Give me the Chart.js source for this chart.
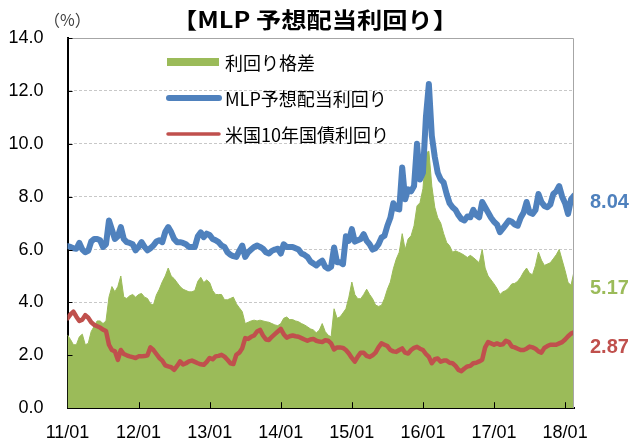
<!DOCTYPE html>
<html lang="ja">
<head>
<meta charset="utf-8">
<title>MLP 予想配当利回り</title>
<script src="https://cdn.jsdelivr.net/npm/chart.js@4.4.1/dist/chart.umd.min.js"></script>
<style>
  html, body { margin: 0; padding: 0; background: #fff; }
  #wrap { width: 631px; height: 443px; }
</style>
</head>
<body>
<div id="wrap"><canvas id="mlpChart" width="631" height="443"></canvas></div>
<script>
// Readings taken twice a month, 2011/01 - 2018/02 (24 points per year)
const pointsPerYear = 24;
const xTickLabels = ['11/01', '12/01', '13/01', '14/01', '15/01', '16/01', '17/01', '18/01'];
const seriesNames = ['利回り格差', 'MLP予想配当利回り', '米国10年国債利回り'];

// MLP yield minus US 10y yield (%)
const spread = [
  2.77, 2.6, 2.4, 2.4, 2.7, 2.8, 2.4, 2.45, 2.9, 3.1, 3.3, 3.3,
  3.2, 3.3, 4.2, 4.6, 4.4, 4.6, 5.0, 4.2, 4.15, 4.25, 4.3, 4.2,
  4.3, 4.34, 4.2, 4.15, 3.95, 3.9, 4.28, 4.5, 4.78, 5.0, 5.3, 5.0,
  4.9, 4.75, 4.6, 4.5, 4.45, 4.4, 4.4, 4.45, 4.8, 4.95, 4.75, 4.85,
  4.75, 4.45, 4.3, 4.3, 4.3, 4.1, 4.1, 4.15, 4.2, 3.95, 3.8, 3.65,
  3.2, 3.25, 3.3, 3.33, 3.3, 3.33, 3.3, 3.27, 3.25, 3.2, 3.15, 3.12,
  3.2, 3.4, 3.45, 3.35, 3.35, 3.3, 3.27, 3.2, 3.15, 3.08, 3.0, 2.96,
  2.85, 2.95, 3.2, 2.9, 2.76, 2.7, 3.76, 3.4, 3.45, 3.6, 3.76, 4.2,
  4.77, 4.3, 4.14, 4.14, 4.3, 4.5, 4.3, 4.14, 3.9, 3.85, 3.89, 4.14,
  4.5, 4.77, 5.27, 5.64, 5.9, 6.6, 6.0, 6.4, 6.52, 6.9, 7.65, 7.77,
  8.3, 9.65, 9.72, 8.4, 7.6, 7.2, 7.0, 6.6, 6.27, 6.14, 5.9, 5.95,
  5.9, 5.85, 5.78, 5.7, 5.78, 5.7, 5.6, 5.5, 6.0, 5.3, 5.0, 4.85,
  4.7, 4.53, 4.3, 4.4, 4.45, 4.55, 4.7, 4.72, 4.8, 4.95, 5.15, 5.3,
  5.1, 5.05, 5.4, 5.9, 5.6, 5.4, 5.45, 5.5, 5.65, 5.8, 6.0, 5.6,
  5.2, 4.75, 4.65, 5.17
];

// MLP expected dividend yield (%)
const mlpYield = [
  6.13, 6.1, 6.05, 6.03, 6.25, 6.0, 5.9, 5.95, 6.3, 6.4, 6.4, 6.35,
  6.1, 6.2, 7.1, 6.75, 6.4, 6.5, 6.85, 6.4, 6.28, 6.25, 6.2, 5.97,
  6.1, 6.28, 6.1, 5.97, 6.05, 6.15, 6.3, 6.35, 6.28, 6.66, 6.85, 6.66,
  6.4, 6.28, 6.28, 6.25, 6.2, 6.1, 6.1, 6.1, 6.5, 6.65, 6.47, 6.6,
  6.55, 6.4, 6.35, 6.28, 6.15, 6.1, 5.9, 5.8, 5.75, 5.72, 5.95, 6.15,
  5.72, 5.9, 6.0, 6.1, 6.15, 6.1, 6.03, 5.9, 5.85, 5.95, 6.0, 6.03,
  5.85, 6.2, 6.1, 6.1, 6.1, 6.05, 6.0, 5.85, 5.8, 5.72, 5.55, 5.47,
  5.4, 5.5, 5.58, 5.35, 5.28, 5.35, 6.08, 5.52, 5.52, 5.45, 6.5, 6.33,
  6.77, 6.3, 6.35, 6.4, 6.58, 6.33, 6.2, 6.0, 6.05, 6.2, 6.45, 6.52,
  6.9, 7.2, 7.75, 7.55, 7.52, 9.1, 7.9, 8.28, 8.2, 8.4, 10.0, 8.65,
  8.9, 11.0, 12.26, 10.3, 9.5, 8.9, 8.65, 8.53, 8.1, 7.75, 7.6, 7.5,
  7.3, 7.15, 7.1, 7.25, 7.22, 7.5, 7.3, 7.22, 7.8, 7.6, 7.4, 7.2,
  7.05, 6.95, 6.66, 6.8, 6.95, 7.1, 7.05, 6.95, 6.9, 7.2, 7.4, 7.8,
  7.4, 7.35, 7.5, 8.1, 7.8, 7.65, 7.6, 7.7, 8.1, 8.2, 8.4, 8.0,
  7.75, 7.35, 7.9, 8.04
];

// US 10-year treasury yield (%)
const ust10y = [
  3.4, 3.55, 3.65, 3.46, 3.3, 3.35, 3.52, 3.42, 3.25, 3.15, 3.1, 3.05,
  2.97, 2.92, 2.4, 2.2, 2.15, 1.83, 2.2, 2.05, 2.0, 1.96, 1.93, 1.9,
  1.96, 1.96, 1.97, 2.0, 2.3, 2.2, 2.05, 1.9, 1.8, 1.62, 1.58, 1.55,
  1.45, 1.6, 1.77, 1.65, 1.7, 1.77, 1.8, 1.75, 1.7, 1.66, 1.64, 1.75,
  1.9, 1.85, 1.96, 1.98, 2.02, 1.95, 1.83, 1.7, 1.67, 2.02, 2.1, 2.27,
  2.65, 2.62, 2.7, 2.75, 2.9, 2.96, 2.75, 2.6, 2.58, 2.7, 2.8, 2.9,
  3.0, 2.8, 2.67, 2.72, 2.75, 2.72, 2.7, 2.65, 2.6, 2.55, 2.6, 2.62,
  2.55, 2.52, 2.5, 2.57, 2.55, 2.45, 2.22, 2.3, 2.3, 2.28, 2.2, 2.07,
  1.9, 1.76, 1.95, 2.1, 2.1, 1.98, 1.94, 2.0, 2.1, 2.3, 2.45, 2.4,
  2.35, 2.2, 2.15, 2.13, 2.2, 2.26, 2.1, 2.07, 2.2, 2.28, 2.32, 2.25,
  2.2, 2.05, 1.94, 1.7, 1.85, 1.88, 1.76, 1.8, 1.8, 1.72, 1.7, 1.6,
  1.45, 1.4, 1.5, 1.58, 1.6, 1.7, 1.72, 1.77, 1.83, 2.3, 2.5, 2.45,
  2.4, 2.45, 2.4, 2.42, 2.55, 2.5, 2.33, 2.3, 2.25, 2.2, 2.2, 2.25,
  2.33, 2.3, 2.25, 2.15, 2.1, 2.28, 2.35, 2.4, 2.4, 2.4, 2.45, 2.5,
  2.6, 2.72, 2.82, 2.87
];

const GREEN = '#9BBB59';
const BLUE = '#4F81BD';
const RED = '#C0504D';
const JP_FONT = '"Noto Sans CJK JP", "Noto Sans", sans-serif';

const toPoints = arr => arr.map((v, i) => ({ x: i, y: v }));

// Title, legend, end labels, frame and inward tick marks
const decorPlugin = {
  id: 'decor',
  afterDraw(chart) {
    const ctx = chart.ctx;
    const area = chart.chartArea;
    const xScale = chart.scales.x;
    const yScale = chart.scales.y;
    ctx.save();

    // grey frame on top and right
    ctx.strokeStyle = '#a6a6a6';
    ctx.lineWidth = 1;
    ctx.beginPath();
    ctx.moveTo(area.left, area.top + 0.5);
    ctx.lineTo(area.right - 0.5, area.top + 0.5);
    ctx.lineTo(area.right - 0.5, area.bottom);
    ctx.stroke();

    // tick marks pointing into the plot
    ctx.strokeStyle = '#000';
    ctx.lineWidth = 1;
    ctx.beginPath();
    yScale.ticks.forEach(t => {
      if (t.value === 0) return;
      const py = Math.round(yScale.getPixelForValue(t.value)) + 0.5;
      ctx.moveTo(area.left, py);
      ctx.lineTo(area.left + 5, py);
    });
    xScale.ticks.forEach(t => {
      if (t.value === 0) return;
      const px = Math.round(xScale.getPixelForValue(t.value)) + 0.5;
      ctx.moveTo(px, area.bottom);
      ctx.lineTo(px, area.bottom - 6);
    });
    ctx.stroke();

    // title (stretched wide like the original)
    const title = '【MLP 予想配当利回り】';
    ctx.font = 'bold 22px ' + JP_FONT;
    ctx.fillStyle = '#000';
    ctx.textBaseline = 'middle';
    ctx.textAlign = 'center';
    const natural = ctx.measureText(title).width;
    const stretch = 286 / natural;
    ctx.save();
    ctx.translate(315, 20);
    ctx.scale(stretch, 1);
    ctx.fillText(title, 0, 0);
    ctx.restore();

    // unit label
    ctx.font = '16px ' + JP_FONT;
    ctx.fillStyle = '#404040';
    ctx.textAlign = 'left';
    ctx.fillText('（%）', 44, 20);

    // legend inside the plot
    const legendX = 167;
    const legendW = 52;
    const rows = [63, 99, 135];
    ctx.fillStyle = GREEN;
    ctx.fillRect(legendX, rows[0] - 5, legendW, 8);
    ctx.lineCap = 'round';
    ctx.strokeStyle = BLUE;
    ctx.lineWidth = 6;
    ctx.beginPath();
    ctx.moveTo(legendX + 2, rows[1] - 1);
    ctx.lineTo(legendX + legendW, rows[1] - 1);
    ctx.stroke();
    ctx.strokeStyle = RED;
    ctx.lineWidth = 3.5;
    ctx.beginPath();
    ctx.moveTo(legendX + 1, rows[2] - 1);
    ctx.lineTo(legendX + legendW, rows[2] - 1);
    ctx.stroke();
    ctx.font = '18px ' + JP_FONT;
    ctx.fillStyle = '#000';
    seriesNames.forEach((name, i) => {
      ctx.fillText(name, legendX + legendW + 6, rows[i]);
    });

    // latest values at the right
    ctx.font = 'bold 20px "Liberation Sans", Arial, sans-serif';
    const last = mlpYield.length - 1;
    const endLabels = [
      { value: mlpYield[last], color: BLUE, offset: 7 },
      { value: spread[last], color: GREEN, offset: 17 },
      { value: ust10y[last], color: RED, offset: 15.5 }
    ];
    endLabels.forEach(l => {
      ctx.fillStyle = l.color;
      ctx.fillText(l.value.toFixed(2), 590, yScale.getPixelForValue(l.value) + l.offset);
    });

    ctx.restore();
  }
};

const ctx = document.getElementById('mlpChart');
new Chart(ctx, {
  type: 'line',
  data: {
    datasets: [
      {
        label: seriesNames[0],
        data: toPoints(spread),
        fill: 'origin',
        backgroundColor: GREEN,
        borderColor: GREEN,
        borderWidth: 1,
        pointRadius: 0,
        tension: 0,
        order: 3
      },
      {
        label: seriesNames[1],
        data: toPoints(mlpYield),
        fill: false,
        borderColor: BLUE,
        borderWidth: 6,
        borderCapStyle: 'round',
        borderJoinStyle: 'round',
        pointRadius: 0,
        tension: 0,
        order: 2
      },
      {
        label: seriesNames[2],
        data: toPoints(ust10y),
        fill: false,
        borderColor: RED,
        borderWidth: 4.5,
        borderCapStyle: 'round',
        borderJoinStyle: 'round',
        pointRadius: 0,
        tension: 0,
        order: 1
      }
    ]
  },
  options: {
    responsive: false,
    animation: false,
    devicePixelRatio: 1,
    layout: {
      padding: { top: 38, right: 57, left: 0, bottom: 0 }
    },
    plugins: {
      legend: { display: false },
      tooltip: { enabled: false }
    },
    scales: {
      x: {
        type: 'linear',
        min: 0,
        max: mlpYield.length - 1,
        afterFit: scale => { scale.height = 33; },
        ticks: {
          stepSize: pointsPerYear,
          includeBounds: false,
          autoSkip: false,
          maxRotation: 0,
          padding: 14,
          color: '#000',
          font: { family: '"Liberation Sans", Arial, sans-serif', size: 18 },
          callback: value => xTickLabels[value / pointsPerYear] || ''
        },
        grid: { drawOnChartArea: false, drawTicks: false },
        border: { color: '#000', width: 2 }
      },
      y: {
        min: 0,
        max: 14,
        afterFit: scale => { scale.width = 67.5; },
        ticks: {
          stepSize: 2,
          padding: 24,
          color: '#000',
          font: { family: '"Liberation Sans", Arial, sans-serif', size: 18 },
          callback: value => value.toFixed(1)
        },
        grid: { color: '#c8c8c8', drawTicks: false },
        border: { color: '#000', width: 2, dash: [3, 2] }
      }
    }
  },
  plugins: [decorPlugin]
});
</script>
</body>
</html>
